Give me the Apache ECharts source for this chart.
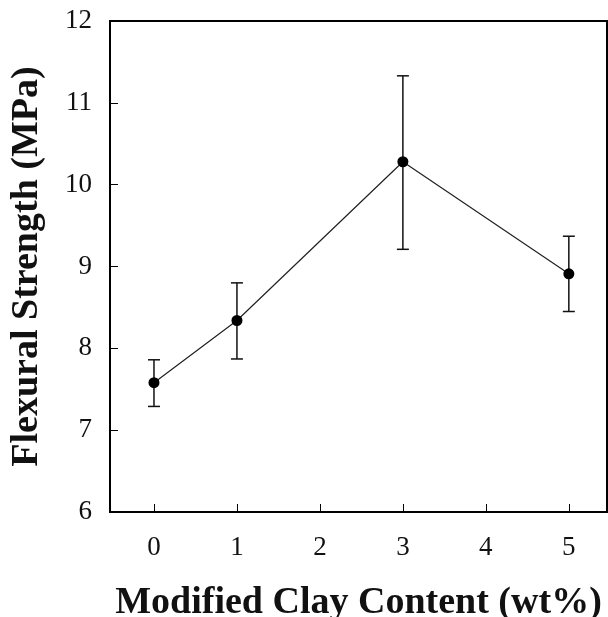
<!DOCTYPE html>
<html>
<head>
    <meta charset="utf-8">
    <title>Flexural Strength</title>
    <script src="https://cdn.jsdelivr.net/npm/echarts@6/dist/echarts.min.js"></script>
</head>
<body style="margin:0;">
    <div id="main" style="width:608px;height:617px;"></div>
    <script type="text/javascript">
        // clay content (wt%) and measured strength (MPa)
        var clay = [0, 1, 3, 5];
        var strength = [7.58, 8.34, 10.28, 8.91];
        var errLow = [7.29, 7.87, 9.21, 8.45];
        var errHigh = [7.86, 8.80, 11.33, 9.37];
        var xTicks = [0, 1, 2, 3, 4, 5];
        var yTicks = [6, 7, 8, 9, 10, 11, 12];

        var myChart = echarts.init(document.getElementById('main'));

        var serif = 'Liberation Serif';
        var points = clay.map(function (c, i) { return [c, strength[i]]; });
        var bars = clay.map(function (c, i) { return [c, errLow[i], errHigh[i]]; });

        var option = {
            backgroundColor: '#fff',
            animation: false,
            grid: {
                left: 110, top: 21, right: 1, bottom: 105,
                outerBoundsMode: 'none',
                containLabel: false,
                show: true, borderColor: '#000', borderWidth: 2
            },
            xAxis: {
                type: 'value',
                min: -0.53, max: 5.46,
                name: 'Modified Clay Content (wt%)',
                nameLocation: 'middle',
                nameGap: 72,
                nameTextStyle: { fontFamily: serif, fontWeight: 'bold', fontSize: 38, color: '#111' },
                axisLine: { onZero: false, lineStyle: { color: '#000', width: 2 } },
                axisTick: { inside: true, length: 8, customValues: xTicks, lineStyle: { color: '#000', width: 1 } },
                axisLabel: { customValues: xTicks, fontFamily: serif, fontSize: 27, color: '#111', margin: 22 },
                splitLine: { show: false }
            },
            yAxis: {
                type: 'value',
                min: 6, max: 12, interval: 1,
                name: 'Flexural Strength (MPa)',
                nameLocation: 'middle',
                nameGap: 64,
                nameTextStyle: { fontFamily: serif, fontWeight: 'bold', fontSize: 38, color: '#111' },
                axisLine: { onZero: false, lineStyle: { color: '#000', width: 2 } },
                axisTick: { inside: true, length: 8, customValues: yTicks, lineStyle: { color: '#000', width: 1 } },
                axisLabel: { customValues: yTicks, fontFamily: serif, fontSize: 27, color: '#111', margin: 18 },
                splitLine: { show: false }
            },
            series: [
                {
                    type: 'custom',
                    data: bars,
                    renderItem: function (params, api) {
                        var top = api.coord([api.value(0), api.value(2)]);
                        var bot = api.coord([api.value(0), api.value(1)]);
                        var w = 6;
                        var st = { stroke: '#111', lineWidth: 1.5 };
                        return {
                            type: 'group',
                            children: [
                                { type: 'line', shape: { x1: top[0], y1: top[1], x2: bot[0], y2: bot[1] }, style: st },
                                { type: 'line', shape: { x1: top[0] - w, y1: top[1], x2: top[0] + w, y2: top[1] }, style: st },
                                { type: 'line', shape: { x1: bot[0] - w, y1: bot[1], x2: bot[0] + w, y2: bot[1] }, style: st }
                            ]
                        };
                    },
                    z: 2
                },
                {
                    type: 'line',
                    data: points,
                    symbol: 'circle',
                    symbolSize: 11,
                    itemStyle: { color: '#000' },
                    lineStyle: { color: '#222', width: 1.2 },
                    z: 3
                }
            ]
        };

        myChart.setOption(option);
    </script>
</body>
</html>
